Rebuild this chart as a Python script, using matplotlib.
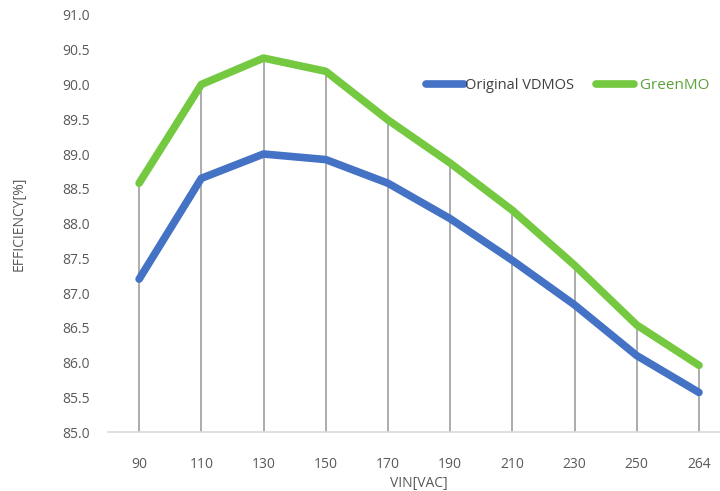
import matplotlib.pyplot as plt

plt.rcParams['font.family'] = ['Open Sans', 'DejaVu Sans']

vin = ['90', '110', '130', '150', '170', '190', '210', '230', '250', '264']
original_vdmos = [87.2, 88.65, 89.0, 88.92, 88.58, 88.07, 87.47, 86.83, 86.1, 85.57]
greenmo = [88.58, 90.0, 90.38, 90.19, 89.49, 88.87, 88.19, 87.4, 86.54, 85.96]
yticks = [85.0 + 0.5 * i for i in range(13)]

blue = '#4472C4'
green = '#74C940'
gray = '#595959'

fig = plt.figure(figsize=(7.2, 4.91), dpi=100)
ax = fig.add_axes([0.15, 0.12, 0.864, 0.8495])

x = list(range(len(vin)))
# drop lines from the upper series down to the axis
ax.vlines(x, 85.0, greenmo, color='#A6A6A6', lw=1.3, zorder=1)
ax.plot(x, original_vdmos, color=blue, lw=5.5, solid_capstyle='round',
        solid_joinstyle='round', label='Original VDMOS', zorder=3)
ax.plot(x, greenmo, color=green, lw=5.5, solid_capstyle='round',
        solid_joinstyle='round', label=' GreenMO', zorder=3)

ax.set_xlim(-0.5, len(vin) - 0.5)
ax.set_ylim(85.0, 91.0)
ax.set_xticks(x)
ax.set_xticklabels(vin)
ax.set_yticks(yticks)
ax.set_yticklabels(['%.1f' % v for v in yticks])
ax.tick_params(length=0, colors=gray, labelsize=10)
ax.tick_params(axis='x', pad=18)
ax.tick_params(axis='y', pad=13)

for s in ['top', 'right', 'left']:
    ax.spines[s].set_visible(False)
ax.spines['bottom'].set_color('#D9D9D9')
ax.spines['bottom'].set_linewidth(1.2)

ax.set_xlabel('VIN[VAC]', color=gray, fontsize=10, labelpad=3)
ax.set_ylabel('EFFICIENCY[%]', color=gray, fontsize=10, labelpad=26)

leg = ax.legend(loc='upper left', bbox_to_anchor=(0.49, 0.88), ncol=2,
                frameon=False, handlelength=2.6, handletextpad=0.1,
                columnspacing=1.5, fontsize=10.5)
leg.get_texts()[0].set_color('#404040')
leg.get_texts()[1].set_color('#5BA33A')
leg.get_texts()[1].set_fontsize(11)

fig.savefig('out.png', dpi=100)
